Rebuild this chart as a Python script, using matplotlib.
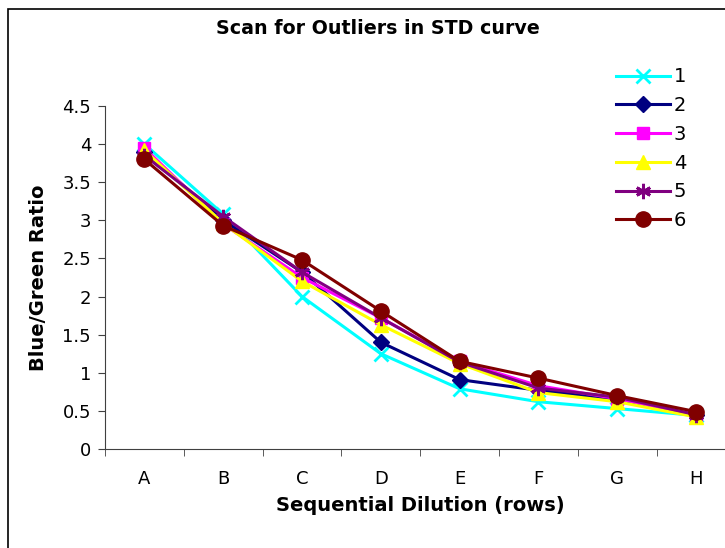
import matplotlib
matplotlib.use("Agg")
import matplotlib.pyplot as plt
from matplotlib.patches import Rectangle

rows = ["A", "B", "C", "D", "E", "F", "G", "H"]
s1 = [4.00, 3.08, 2.00, 1.25, 0.79, 0.62, 0.53, 0.44]
s2 = [3.90, 3.00, 2.32, 1.40, 0.91, 0.77, 0.65, 0.44]
s3 = [3.95, 2.95, 2.25, 1.72, 1.15, 0.83, 0.66, 0.45]
s4 = [3.92, 2.96, 2.20, 1.63, 1.12, 0.74, 0.62, 0.42]
s5 = [3.85, 3.05, 2.32, 1.72, 1.14, 0.80, 0.68, 0.45]
s6 = [3.80, 2.93, 2.48, 1.81, 1.15, 0.93, 0.70, 0.49]
names = ["1", "2", "3", "4", "5", "6"]

colors = ["#00FFFF", "#000080", "#FF00FF", "#FFFF00", "#800080", "#800000"]
markers = ["x", "D", "s", "^", (6, 2, 0), "o"]
msizes = [10, 8, 9, 10, 11, 11]

plt.rcParams['font.family'] = ['DejaVu Sans']

fig = plt.figure(figsize=(7.25, 5.48), dpi=100)
ax = fig.add_axes([105/725, 1-449/548, 630.5/725, 343/548])

x = list(range(len(rows)))
for vals, nm, c, m, ms in zip([s1, s2, s3, s4, s5, s6], names, colors, markers, msizes):
    ax.plot(x, vals, color=c, lw=2.2, marker=m, markersize=ms, label=nm,
            markeredgewidth=2 if m in ("x",) or isinstance(m, tuple) else 1,
            markeredgecolor=c, markerfacecolor=c)

ax.set_xlim(-0.5, 7.5)
ax.set_ylim(0, 4.5)
ax.set_yticks([0, 0.5, 1, 1.5, 2, 2.5, 3, 3.5, 4, 4.5])
ax.set_yticklabels(["0", "0.5", "1", "1.5", "2", "2.5", "3", "3.5", "4", "4.5"])
ax.set_xticks(x)
ax.set_xticklabels(rows)
ax.set_xticks([i - 0.5 for i in range(len(rows) + 1)], minor=True)
ax.tick_params(axis='x', which='major', length=0, pad=15, labelsize=13)
ax.tick_params(axis='x', which='minor', length=5, direction='out', color='#404040')
ax.tick_params(axis='y', length=5, direction='out', labelsize=13, pad=5, color='#404040')
ax.spines['top'].set_visible(False)
ax.spines['right'].set_visible(False)
ax.spines['left'].set_color('#404040')
ax.spines['bottom'].set_color('#404040')

ax.set_ylabel("Blue/Green Ratio", fontsize=14, fontweight='bold', labelpad=10.5)
ax.set_xlabel("Sequential Dilution (rows)", fontsize=14, fontweight='bold', labelpad=6)
fig.text(378/725, 1-28/548, "Scan for Outliers in STD curve", ha='center', va='center',
         fontsize=13.7, fontweight='bold')

leg = fig.legend(loc='upper left', bbox_to_anchor=(598/725, 1-50/548), frameon=False,
                 fontsize=14, handlelength=2.8, labelspacing=0.5, handletextpad=0.2)

fig.patches.append(Rectangle((8/725, -0.1), 1.2, 1 - 9/548 + 0.1, transform=fig.transFigure,
                             fill=False, edgecolor='black', lw=1.2))

fig.savefig("out.png", dpi=100)
